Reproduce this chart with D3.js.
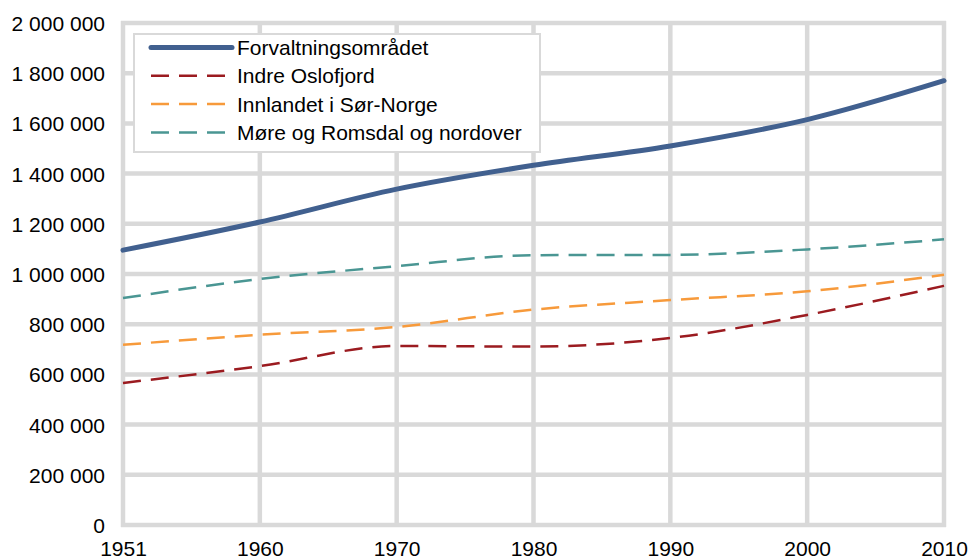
<!DOCTYPE html>
<html>
<head>
<meta charset="utf-8">
<script src="https://cdn.jsdelivr.net/npm/d3@7"></script>
<style>
  body { margin: 0; background: #fff; }
  text { font-family: Arial, "Liberation Sans", sans-serif; fill: #000; }
</style>
</head>
<body>
<svg id="canvas"></svg>
<script>
const years = ['1951', '1960', '1970', '1980', '1990', '2000', '2010'];
const yTicks = [0, 200000, 400000, 600000, 800000, 1000000, 1200000, 1400000, 1600000, 1800000, 2000000];

const forvaltning = [1095000, 1207000, 1338000, 1433000, 1510000, 1615000, 1770000];
const indreOslofjord = [566000, 633000, 713000, 711000, 745000, 837000, 953000];
const innlandet = [718000, 758000, 789000, 858000, 896000, 931000, 997000];
const moreNordover = [904000, 980000, 1031000, 1075000, 1076000, 1098000, 1138000];

const seriesNames = ['Forvaltningsområdet', 'Indre Oslofjord', 'Innlandet i Sør-Norge', 'Møre og Romsdal og nordover'];

const series = [
    { name: seriesNames[0], values: forvaltning, color: '#41608f', width: 5, dash: null },
    { name: seriesNames[1], values: indreOslofjord, color: '#9b1b20', width: 2.5, dash: '18 10' },
    { name: seriesNames[2], values: innlandet, color: '#f79a3b', width: 2.5, dash: '18 10' },
    { name: seriesNames[3], values: moreNordover, color: '#4a9693', width: 2.5, dash: '18 10' }
];

const width = 970;
const height = 559;
const plotLeft = 123, plotRight = 944, plotTop = 23, plotBottom = 525;
const gridColor = '#d9d9d9';

const svg = d3.select('#canvas').attr('width', width).attr('height', height);

const xScale = d3.scalePoint().domain(years).range([plotLeft, plotRight]);
const yScale = d3.scaleLinear().domain([0, 2000000]).range([plotBottom, plotTop]);

const fmt = v => d3.format(',')(v).replace(/,/g, ' ');

// grid
svg.append('g')
    .selectAll('line')
    .data(yTicks)
    .enter()
    .append('line')
    .attr('x1', plotLeft - 2)
    .attr('x2', plotRight + 2)
    .attr('y1', d => yScale(d))
    .attr('y2', d => yScale(d))
    .attr('stroke', gridColor)
    .attr('stroke-width', 4.5);

svg.append('g')
    .selectAll('line')
    .data(years)
    .enter()
    .append('line')
    .attr('x1', d => xScale(d))
    .attr('x2', d => xScale(d))
    .attr('y1', plotTop - 2)
    .attr('y2', plotBottom + 2)
    .attr('stroke', gridColor)
    .attr('stroke-width', 4.5);

// axes (labels only, lines hidden)
const yAxis = d3.axisLeft(yScale).tickValues(yTicks).tickFormat(fmt).tickSize(0).tickPadding(18);
const gy = svg.append('g').attr('transform', 'translate(' + plotLeft + ',0)').call(yAxis);
gy.select('.domain').remove();
gy.selectAll('text').style('font-size', '21px').style('font-family', 'Arial, "Liberation Sans", sans-serif').attr('dy', '0.36em');

const xAxis = d3.axisBottom(xScale).tickSize(0).tickPadding(16);
const gx = svg.append('g').attr('transform', 'translate(0,' + plotBottom + ')').call(xAxis);
gx.select('.domain').remove();
gx.selectAll('text').style('font-size', '21px').style('font-family', 'Arial, "Liberation Sans", sans-serif');

// lines
const line = d3.line()
    .x((d, i) => xScale(years[i]))
    .y(d => yScale(d))
    .curve(d3.curveMonotoneX);

svg.append('g')
    .selectAll('path')
    .data(series.slice().reverse())
    .enter()
    .append('path')
    .attr('d', d => line(d.values))
    .attr('fill', 'none')
    .attr('stroke', d => d.color)
    .attr('stroke-width', d => d.width)
    .attr('stroke-dasharray', d => d.dash)
    .attr('stroke-linecap', d => d.dash ? 'butt' : 'round');

// legend
const legend = svg.append('g');
legend.append('rect')
    .attr('x', 134).attr('y', 34)
    .attr('width', 406).attr('height', 118)
    .attr('fill', '#fff')
    .attr('stroke', gridColor)
    .attr('stroke-width', 2);

const rows = legend.selectAll('g.row')
    .data(series)
    .enter()
    .append('g')
    .attr('class', 'row')
    .attr('transform', (d, i) => 'translate(0,' + (47.5 + i * 28.3) + ')');

rows.append('line')
    .attr('x1', 151).attr('x2', 232)
    .attr('stroke', d => d.color)
    .attr('stroke-width', d => d.width)
    .attr('stroke-dasharray', d => d.dash)
    .attr('stroke-linecap', d => d.dash ? 'butt' : 'round');

rows.append('text')
    .attr('x', 237)
    .attr('dy', '0.36em')
    .style('font-size', '21px')
    .text(d => d.name);
</script>
</body>
</html>
